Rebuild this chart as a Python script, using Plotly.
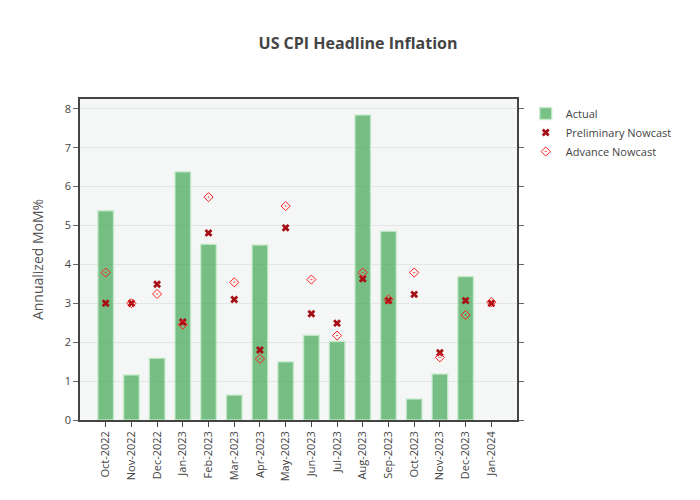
import plotly.graph_objects as go

months = ["Oct-2022", "Nov-2022", "Dec-2022", "Jan-2023", "Feb-2023", "Mar-2023",
          "Apr-2023", "May-2023", "Jun-2023", "Jul-2023", "Aug-2023", "Sep-2023",
          "Oct-2023", "Nov-2023", "Dec-2023", "Jan-2024"]
actual = [5.38, 1.16, 1.59, 6.38, 4.52, 0.64, 4.50, 1.50, 2.18, 2.02, 7.84, 4.85,
          0.54, 1.18, 3.69, None]
preliminary = [3.00, 3.00, 3.49, 2.52, 4.81, 3.10, 1.80, 4.94, 2.73, 2.49, 3.63, 3.07,
               3.23, 1.73, 3.07, 3.00]
advance = [3.79, 3.00, 3.24, 2.45, 5.73, 3.54, 1.57, 5.50, 3.61, 2.17, 3.79, 3.10,
           3.79, 1.61, 2.70, 3.03]

fig = go.Figure()
fig.add_trace(go.Bar(
    x=months, y=actual, name="Actual",
    marker=dict(color="rgba(50,160,70,0.65)", line=dict(color="rgba(200,235,205,0.8)", width=1.5)),
))
fig.add_trace(go.Scatter(
    x=months, y=preliminary, name="Preliminary Nowcast", mode="markers",
    marker=dict(symbol="x", color="#a50f15", size=7),
))
fig.add_trace(go.Scatter(
    x=months, y=advance, name="Advance Nowcast", mode="markers",
    marker=dict(symbol="diamond-open-dot", color="#ff2020", size=7, line=dict(width=1)),
))

fig.update_layout(
    width=700, height=500,
    title=dict(text="<b>US CPI Headline Inflation</b>", x=0.5, xanchor="center", y=0.94,
               font=dict(size=16, color="#444")),
    font=dict(family="Open Sans, Lato, sans-serif", color="#444", size=11),
    paper_bgcolor="white",
    plot_bgcolor="#f5f7f6",
    margin=dict(l=72, r=191, t=91, b=88, autoexpand=False),
    bargap=0.39,
    showlegend=True,
    legend=dict(x=1.02, y=1, font=dict(size=11, color="#444"), bgcolor="rgba(0,0,0,0)"),
    xaxis=dict(
        tickangle=-90, showgrid=False, showline=True, linecolor="#444", linewidth=1.5,
        mirror=True, ticks="outside", tickcolor="#444", ticklen=5, range=[-1, 16],
        automargin=False,
    ),
    yaxis=dict(
        title=dict(text="Annualized MoM%", font=dict(size=14, color="#555"), standoff=18),
        showgrid=True, gridcolor="#e4e6e5", zeroline=False, showline=True,
        linecolor="#444", linewidth=1.5, mirror="ticks", ticks="outside",
        tickcolor="#666", ticklen=5, dtick=1, automargin=False,
    ),
)

fig.write_html("out.html")
